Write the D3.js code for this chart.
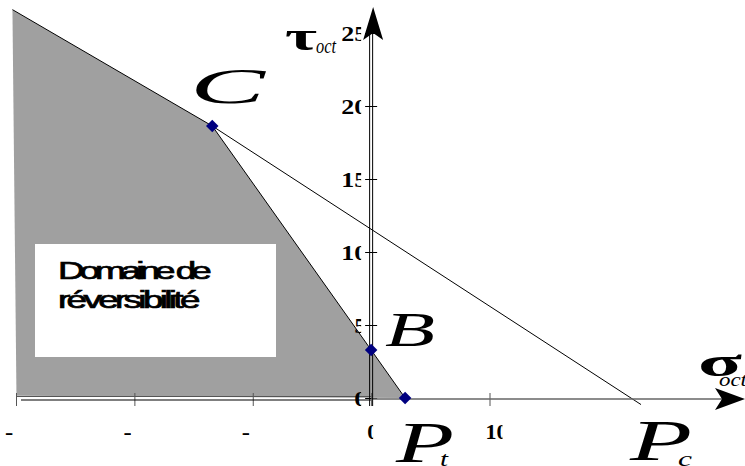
<!DOCTYPE html>
<html>
<head>
<meta charset="utf-8">
<script src="https://cdn.jsdelivr.net/npm/d3@7"></script>
<style>
  html, body { margin: 0; padding: 0; background: #fff; }
  svg { display: block; }
</style>
</head>
<body>
<div id="chart"></div>
<script>
// axis ticks
const xTicks = [-30, -20, -10, 0, 10];
const yTicks = [0, 5, 10, 15, 20, 25];

// reversibility domain (grey region), corners in (sigma, tau)
const regionPoly = [[-30.3, 26.6], [-13.42, 18.63], [0, 3.29], [2.87, 0], [-29.96, 0.15]];

// key points
const pointNames = ["C", "B", "Pt"];
const pointX = [-13.42, 0, 2.87];
const pointY = [18.63, 3.29, 0];

// line from C down to Pc
const lineCPc = [[-13.42, 18.63], [22.8, -0.45]];

const width = 745, height = 466;

const svg = d3.select("#chart").append("svg")
  .attr("width", width)
  .attr("height", height);

const x = d3.scaleLinear().domain([-30, 10]).range([16, 489.5]);
const y = d3.scaleLinear().domain([0, 25]).range([398, 33]);

const defs = svg.append("defs");
const toPath = d3.line().x(d => x(d[0])).y(d => y(d[1]));

// grey region
svg.append("path")
  .attr("d", toPath(regionPoly) + "Z")
  .attr("fill", "#a0a0a0");

// the two drawn edges of the region
svg.append("path")
  .attr("d", toPath(regionPoly.slice(0, 4)))
  .attr("fill", "none")
  .attr("stroke", "#000")
  .attr("stroke-width", 1);

// line C -> Pc
svg.append("path")
  .attr("d", toPath(lineCPc))
  .attr("fill", "none")
  .attr("stroke", "#000")
  .attr("stroke-width", 1);

// text box
svg.append("rect")
  .attr("x", 35).attr("y", 244)
  .attr("width", 241).attr("height", 113)
  .attr("fill", "#fff");

// stretched glyphs, squeezed spacing (as in the original)
const boxText = svg.append("g")
  .style("font-family", "'Liberation Sans', Arial, sans-serif")
  .style("font-size", "23px")
  .attr("fill", "#000")
  .attr("stroke", "#000")
  .attr("stroke-width", 0.7);
boxText.append("text")
  .attr("transform", "translate(58,279) scale(1.6,1)")
  .attr("textLength", 96).attr("lengthAdjust", "spacing")
  .text("Domaine de");
boxText.append("text")
  .attr("transform", "translate(58,308) scale(1.6,1)")
  .attr("textLength", 89).attr("lengthAdjust", "spacing")
  .text("réversibilité");

// chart axes (thin, with crossing ticks)
const axes = svg.append("g").attr("stroke-width", 1);
axes.append("line")
  .attr("x1", x(-30)).attr("x2", x(0))
  .attr("y1", y(0) - 1.5).attr("y2", y(0) - 1.5)
  .attr("stroke", "#555");
axes.selectAll(".xt").data(xTicks).join("line")
  .attr("x1", d => x(d) + 0.5).attr("x2", d => x(d) + 0.5)
  .attr("y1", y(0) - 5).attr("y2", y(0) + 8)
  .attr("stroke", "#555");
axes.append("line")
  .attr("x1", x(0) - 1.5).attr("x2", x(0) - 1.5)
  .attr("y1", y(0) + 8).attr("y2", y(25))
  .attr("stroke", "#000");
axes.selectAll(".yt").data(yTicks).join("line")
  .attr("x1", x(0) - 6).attr("x2", x(0) + 6)
  .attr("y1", d => y(d) + 0.5).attr("y2", d => y(d) + 0.5)
  .attr("stroke", "#000");

// arrows
svg.append("line")
  .attr("x1", 21).attr("x2", x(0))
  .attr("y1", y(0) + 2).attr("y2", y(0) + 2)
  .attr("stroke", "#000").attr("stroke-width", 1.2);
svg.append("line")
  .attr("x1", x(0)).attr("x2", 722)
  .attr("y1", y(0) + 1).attr("y2", y(0) + 1)
  .attr("stroke", "#666").attr("stroke-width", 1.5);
svg.append("path")
  .attr("d", `M745,${y(0) + 1} L715,${y(0) - 10} L722,${y(0) + 1} L715,${y(0) + 12} Z`)
  .attr("fill", "#000");

svg.append("line")
  .attr("x1", x(0) + 1.5).attr("x2", x(0) + 1.5)
  .attr("y1", y(0) + 8).attr("y2", 32)
  .attr("stroke", "#000").attr("stroke-width", 1);
svg.append("path")
  .attr("d", `M${x(0) + 2},7 L${x(0) + 12},40 L${x(0) + 2},33 L${x(0) - 8},40 Z`)
  .attr("fill", "#000");

// tick labels (clipped, as in the original rendering)
const tickFont = "'Liberation Serif', 'Times New Roman', serif";
const xLab = svg.append("g")
  .style("font-family", tickFont)
  .style("font-weight", "bold")
  .style("font-size", "22px")
  .attr("fill", "#000");
xTicks.forEach((t, i) => {
  const s = String(t);
  const w = s.length * 11;
  const left = t < 0 ? x(t) - 11 : x(t) - 4;
  const visible = t < 0 ? 8 : w - 5;
  defs.append("clipPath").attr("id", "xc" + i)
    .append("rect").attr("x", left).attr("y", 415).attr("width", visible).attr("height", 30);
  xLab.append("text")
    .attr("clip-path", `url(#xc${i})`)
    .attr("x", left).attr("y", y(0) + 41)
    .attr("textLength", w).attr("lengthAdjust", "spacingAndGlyphs")
    .text(s);
});

const yLab = svg.append("g")
  .style("font-family", tickFont)
  .style("font-weight", "bold")
  .style("font-size", "22px")
  .attr("fill", "#000");
yTicks.forEach((t, i) => {
  const s = String(t);
  const w = s.length * 13;
  const right = x(0) - 4;
  defs.append("clipPath").attr("id", "yc" + i)
    .append("rect").attr("x", right - w).attr("y", y(t) - 20).attr("width", w - 6).attr("height", 30);
  yLab.append("text")
    .attr("clip-path", `url(#yc${i})`)
    .attr("x", right - w).attr("y", y(t) + 8)
    .attr("textLength", w).attr("lengthAdjust", "spacingAndGlyphs")
    .text(s);
});

// diamond markers
svg.append("g").selectAll("path")
  .data(pointNames.map((n, i) => ({ n, x: pointX[i], y: pointY[i] })))
  .join("path")
  .attr("transform", d => `translate(${x(d.x)},${y(d.y)})`)
  .attr("d", d3.symbol(d3.symbolDiamond2, 100))
  .attr("fill", "#000080");

// point and axis labels
const serif = "'Liberation Serif', 'Times New Roman', serif";
function bigLabel(txt, sub, px, py, size, len, subDx, subDy, subSize, subLen) {
  const g = svg.append("g").style("font-family", serif).attr("fill", "#000");
  g.append("text").attr("x", px).attr("y", py)
    .style("font-style", "italic").style("font-size", size + "px")
    .attr("textLength", len).attr("lengthAdjust", "spacingAndGlyphs")
    .text(txt);
  if (sub) {
    g.append("text").attr("x", px + subDx).attr("y", py + subDy)
      .style("font-style", "italic").style("font-size", subSize + "px")
      .attr("textLength", subLen).attr("lengthAdjust", "spacingAndGlyphs")
      .text(sub);
  }
}
bigLabel("C", null, 190, 103, 50, 75);
bigLabel("B", null, 385, 346, 48, 50);
bigLabel("P", "t", 396, 462, 58, 58, 44, 4, 22, 8);
bigLabel("P", "c", 630, 460, 58, 62, 48, 6, 22, 14);

// axis titles
const tauG = svg.append("g").style("font-family", serif).attr("fill", "#000");
tauG.append("text").attr("x", 285).attr("y", 50)
  .style("font-weight", "bold").style("font-size", "40px")
  .attr("textLength", 32).attr("lengthAdjust", "spacingAndGlyphs")
  .text("τ");
tauG.append("text").attr("x", 316).attr("y", 53)
  .style("font-style", "italic").style("font-size", "20px")
  .attr("textLength", 20).attr("lengthAdjust", "spacingAndGlyphs")
  .text("oct");

const sigG = svg.append("g").style("font-family", serif).attr("fill", "#000");
sigG.append("text").attr("x", 698).attr("y", 376)
  .style("font-weight", "bold").style("font-size", "40px")
  .attr("textLength", 44).attr("lengthAdjust", "spacingAndGlyphs")
  .text("σ");
sigG.append("text").attr("x", 719).attr("y", 386)
  .style("font-style", "italic").style("font-size", "18px")
  .attr("textLength", 28).attr("lengthAdjust", "spacingAndGlyphs")
  .text("oct");
</script>
</body>
</html>
